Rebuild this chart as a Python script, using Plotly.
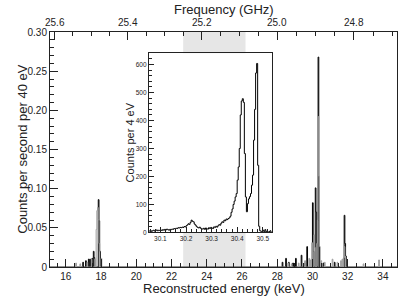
import numpy as np
import plotly.graph_objects as go

# ---------------- data ----------------
# main histogram: 40 eV bins; only non-zero bins listed (bin centre energy keV, counts/s)
BIN_LO, BIN_HI, BIN_W = 15.0, 35.0, 0.04

black_E = [16.98, 17.14, 17.30, 17.38, 17.50, 17.58, 17.62, 17.86, 17.90, 17.94,
           28.30, 28.50, 28.66, 28.90, 29.06, 29.38, 29.58, 29.70, 30.02, 30.06,
           30.18, 30.22, 30.34, 30.38, 30.62, 31.26, 31.82, 31.86, 31.90]
black_rate = [0.006, 0.008, 0.010, 0.010, 0.011, 0.020, 0.012, 0.086, 0.059, 0.020,
              0.006, 0.011, 0.006, 0.005, 0.011, 0.015, 0.005, 0.026, 0.082, 0.020,
              0.101, 0.070, 0.268, 0.060, 0.005, 0.006, 0.066, 0.030, 0.014]

grey_E = [16.58, 16.82, 17.22, 17.46, 17.66, 17.74, 17.78, 17.82, 17.86, 17.90, 18.02,
          28.62, 28.82, 29.22, 29.58, 29.82, 29.90, 29.98, 30.10, 30.14, 30.26, 30.30,
          30.34, 30.38, 30.42, 30.50, 30.70, 31.14, 31.42, 31.62, 31.70, 31.78, 31.82,
          31.86, 32.90, 33.80]
grey_rate = [0.005, 0.004, 0.006, 0.010, 0.010, 0.048, 0.072, 0.076, 0.060, 0.030, 0.011,
             0.005, 0.004, 0.005, 0.008, 0.011, 0.009, 0.031, 0.041, 0.025, 0.030, 0.060,
             0.192, 0.116, 0.026, 0.008, 0.006, 0.010, 0.006, 0.008, 0.010, 0.012, 0.026,
             0.012, 0.004, 0.009]

# inset: 4 eV bins starting at 30.056 keV
INSET_START, INSET_W = 30.056, 0.004
inset_counts = [5, 7, 4, 6, 8, 5, 7, 9, 6, 8, 7,
                9, 7, 10, 8, 11, 9, 12, 10, 8, 11,
                10, 12, 11, 14, 13, 15, 14, 17, 16, 18,
                17, 19, 18, 21, 20, 24, 27, 31, 29, 36,
                44, 40, 38, 30, 26, 21, 18, 16, 19, 15,
                13, 12, 15, 11, 16, 13, 12, 17, 14, 18,
                16, 14, 20, 18, 22, 19, 24, 28, 26, 33,
                38, 36, 44, 42, 48, 46, 50, 52, 58, 72,
                84, 100, 112, 127, 139, 187, 234, 300, 420, 470,
                478, 465, 282, 127, 74, 103, 120, 128, 139, 169,
                205, 330, 440, 570, 604, 240, 22, 6, 4, 3,
                8, 3, 10, 2, 5, 0, 3, 6, 1]

energy_ticks = [16, 18, 20, 22, 24, 26, 28, 30, 32, 34]
rate_ticks = [0, 0.05, 0.10, 0.15, 0.20, 0.25, 0.30]
rate_labels = ["0", "0.05", "0.10", "0.15", "0.20", "0.25", "0.30"]
freq_ticks = [25.6, 25.4, 25.2, 25.0, 24.8]
freq_labels = ["25.6", "25.4", "25.2", "25.0", "24.8"]
freq_minor = [25.55, 25.5, 25.45, 25.35, 25.3, 25.25, 25.15, 25.1, 25.05,
              24.95, 24.9, 24.85, 24.75, 24.7]
inset_x_ticks = [30.1, 30.2, 30.3, 30.4, 30.5]
inset_x_labels = ["30.1", "30.2", "30.3", "30.4", "30.5"]
inset_y_ticks = [0, 100, 200, 300, 400, 500, 600]
band = [22.66, 26.2]

F0 = 26.37  # GHz, cyclotron frequency at zero kinetic energy
ME = 511.0  # keV


def freq_to_energy(f):
    return ME * (F0 / np.asarray(f) - 1.0)


# ---------------- build histograms ----------------
nb = int(round((BIN_HI - BIN_LO) / BIN_W))
edges = BIN_LO + BIN_W * np.arange(nb + 1)


def fill(Es, vs):
    h = np.zeros(nb)
    for e, v in zip(Es, vs):
        h[int((e - BIN_LO) / BIN_W)] = v
    return np.append(h, h[-1])


black_h = fill(black_E, black_rate)
grey_h = fill(grey_E, grey_rate)

ni = len(inset_counts)
inset_edges = INSET_START + INSET_W * np.arange(ni + 1)
inset_y = list(inset_counts) + [inset_counts[-1]]

AX = "#222222"
FONT = "Liberation Sans, Arial, Helvetica, sans-serif"

fig = go.Figure()
fig.add_trace(go.Scatter(x=edges, y=black_h, mode="lines", line=dict(color="black", width=1, shape="hv"),
                         showlegend=False, hoverinfo="skip"))
fig.add_trace(go.Scatter(x=edges, y=grey_h, mode="lines", line=dict(color="#9a9a9a", width=1, shape="hv"),
                         showlegend=False, hoverinfo="skip"))
fig.add_trace(go.Scatter(x=[], y=[], xaxis="x3", yaxis="y", showlegend=False))
fig.add_trace(go.Scatter(x=inset_edges, y=inset_y, mode="lines", xaxis="x2", yaxis="y2",
                         line=dict(color="black", width=1, shape="hv"), showlegend=False, hoverinfo="skip"))

XR = [15.1, 34.8]
IX = [0.285, 0.639]
IY = [0.147, 0.909]

common = dict(showgrid=False, zeroline=False, showline=True, linecolor=AX, linewidth=1, automargin=False,
              ticks="inside", tickcolor=AX, tickwidth=1, tickfont=dict(size=10, color="#222", family=FONT))
small = dict(size=6.5, color="#222", family=FONT)

freq_pos = list(freq_to_energy(freq_ticks))
freq_annots = [dict(text=t, xref="x", yref="paper", x=float(p), y=1.041, xanchor="center", yanchor="middle",
                    showarrow=False, font=dict(size=10, color="#222"))
               for t, p in zip(freq_labels, freq_pos)]

fig.update_layout(
    width=415, height=300, autosize=False,
    margin=dict(l=50, r=18, t=32, b=33),
    paper_bgcolor="white", plot_bgcolor="white",
    font=dict(family=FONT, color="#222"),
    xaxis=dict(domain=[0, 1], range=XR, tickmode="array", tickvals=energy_ticks, ticklen=8,
               mirror=False, anchor="y",
               minor=dict(dtick=0.5, tick0=0, ticklen=4, ticks="inside", tickcolor=AX), **common),
    yaxis=dict(domain=[0, 1], range=[0, 0.30], tickmode="array", tickvals=rate_ticks, ticktext=rate_labels,
               ticklen=8, mirror=True, anchor="x",
               minor=dict(dtick=0.01, tick0=0, ticklen=4, ticks="inside", tickcolor=AX), **common),
    xaxis3=dict(overlaying="x", side="top", anchor="y", range=XR, tickmode="array",
                tickvals=freq_pos, showticklabels=False, ticklen=8,
                minor=dict(tickmode="array", tickvals=list(freq_to_energy(freq_minor)), ticklen=4,
                           ticks="inside", tickcolor=AX),
                **common),
    xaxis2=dict(domain=IX, anchor="y2", range=[30.055, 30.535], tickmode="array", tickvals=inset_x_ticks,
                ticktext=inset_x_labels, ticklen=5, mirror=True,
                minor=dict(dtick=0.02, tick0=30.0, ticklen=3, ticks="inside", tickcolor=AX),
                **{**common, "tickfont": small}),
    yaxis2=dict(domain=IY, anchor="x2", range=[0, 640], tickmode="array", tickvals=inset_y_ticks,
                ticklen=5, mirror=True,
                minor=dict(dtick=20, tick0=0, ticklen=3, ticks="inside", tickcolor=AX),
                **{**common, "tickfont": small}),
    shapes=[
        dict(type="rect", xref="x", yref="paper", x0=band[0], x1=band[1], y0=0, y1=IY[0],
             fillcolor="#e6e6e6", line=dict(width=0), layer="below"),
        dict(type="rect", xref="x", yref="paper", x0=band[0], x1=band[1], y0=IY[1], y1=1,
             fillcolor="#e6e6e6", line=dict(width=0), layer="below"),
    ],
    annotations=[
        dict(text="Reconstructed energy (keV)", xref="paper", yref="paper", x=0.5, y=-0.093,
             xanchor="center", yanchor="middle", showarrow=False, font=dict(size=13, color="#222")),
        dict(text="Frequency (GHz)", xref="paper", yref="paper", x=0.5, y=1.097,
             xanchor="center", yanchor="middle", showarrow=False, font=dict(size=13, color="#222")),
        dict(text="Counts per second per 40 eV", xref="paper", yref="paper", x=-0.08, y=0.5,
             xanchor="center", yanchor="middle", textangle=-90, showarrow=False,
             font=dict(size=13, color="#222")),
        dict(text="Counts per 4 eV", xref="paper", yref="paper", x=(129.5 - 50) / 347, y=(IY[0] + IY[1]) / 2,
             xanchor="center", yanchor="middle", textangle=-90, showarrow=False,
             font=dict(size=11, color="#222")),
    ] + freq_annots,
)

fig.write_html("out.html", config={"displayModeBar": False},
               post_script="document.body.style.margin='0px';document.body.style.overflow='hidden';")
